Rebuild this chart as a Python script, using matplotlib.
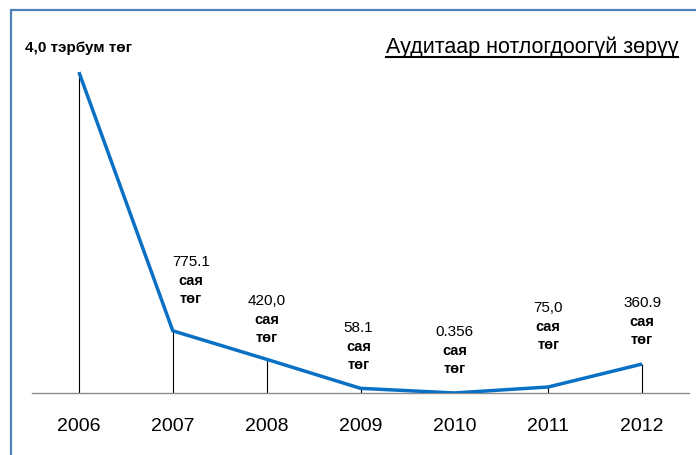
import matplotlib.pyplot as plt
from matplotlib.patches import Rectangle
from matplotlib.lines import Line2D

plt.rcParams['font.family'] = ['Liberation Sans', 'DejaVu Sans']

years = ['2006', '2007', '2008', '2009', '2010', '2011', '2012']
values = [4000, 775.1, 420.0, 58.1, 0.356, 75.0, 360.9]   # сая төг
numbers = ['', '775.1', '420,0', '58.1', '0.356', '75,0', '360.9']
title = 'Аудитаар нотлогдоогүй зөрүү'
first_label = '4,0 тэрбум төг'

# label offsets in pixels from each point (dx, dy of top line)
offsets = [(0, 0), (18, 69), (0, 58), (-2, 60), (0, 61), (0, 79), (0, 61)]

fig = plt.figure(figsize=(6.96, 4.55), dpi=100)
W, H = 696, 455
ax = fig.add_axes([32 / W, 1 - 393 / H, 657 / W, (393 - 32) / H])

x = list(range(len(years)))
ax.vlines(x, 0, values, color='black', lw=0.8, zorder=2)
ax.plot(x, values, color='#0A70C4', lw=2.5, zorder=3, solid_capstyle='butt')

ax.set_xlim(-0.5, 6.5)
ax.set_ylim(0, 4500)
ax.set_xticks(x)
ax.set_xticklabels(years, fontsize=14)
ax.tick_params(axis='x', length=0, pad=18)
ax.set_yticks([])
for s in ['top', 'right', 'left']:
    ax.spines[s].set_visible(False)
ax.spines['bottom'].set_color('#8c8c8c')
ax.spines['bottom'].set_linewidth(1.0)
ax.patch.set_visible(False)

for i in range(1, len(years)):
    dx, dy = offsets[i]
    ax.annotate(numbers[i], (x[i], values[i]), xytext=(dx, dy), textcoords='offset pixels',
                ha='center', va='center', fontsize=11)
    ax.annotate('сая', (x[i], values[i]), xytext=(dx, dy - 19), textcoords='offset pixels',
                ha='center', va='center', fontsize=10.5, fontweight='bold')
    ax.annotate('төг', (x[i], values[i]), xytext=(dx, dy - 37), textcoords='offset pixels',
                ha='center', va='center', fontsize=10.5, fontweight='bold')

fig.text(25 / W, 1 - 48 / H, first_label, ha='left', va='center', fontsize=11, fontweight='bold')

t = fig.text(678 / W, 1 - 47 / H, title, ha='right', va='center', fontsize=15.5)
fig.canvas.draw()
bb = t.get_window_extent()
uy = bb.y0 + 1
fig.add_artist(Line2D([bb.x0 / W, bb.x1 / W], [uy / H, uy / H], color='black', lw=1.5,
                      transform=fig.transFigure))

fig.add_artist(Rectangle((11 / W, -0.1), 1.2, 1.1 - 10 / H, transform=fig.transFigure,
                         fill=False, edgecolor='#4F81BD', lw=1.6))

fig.savefig('out.png', dpi=100)
